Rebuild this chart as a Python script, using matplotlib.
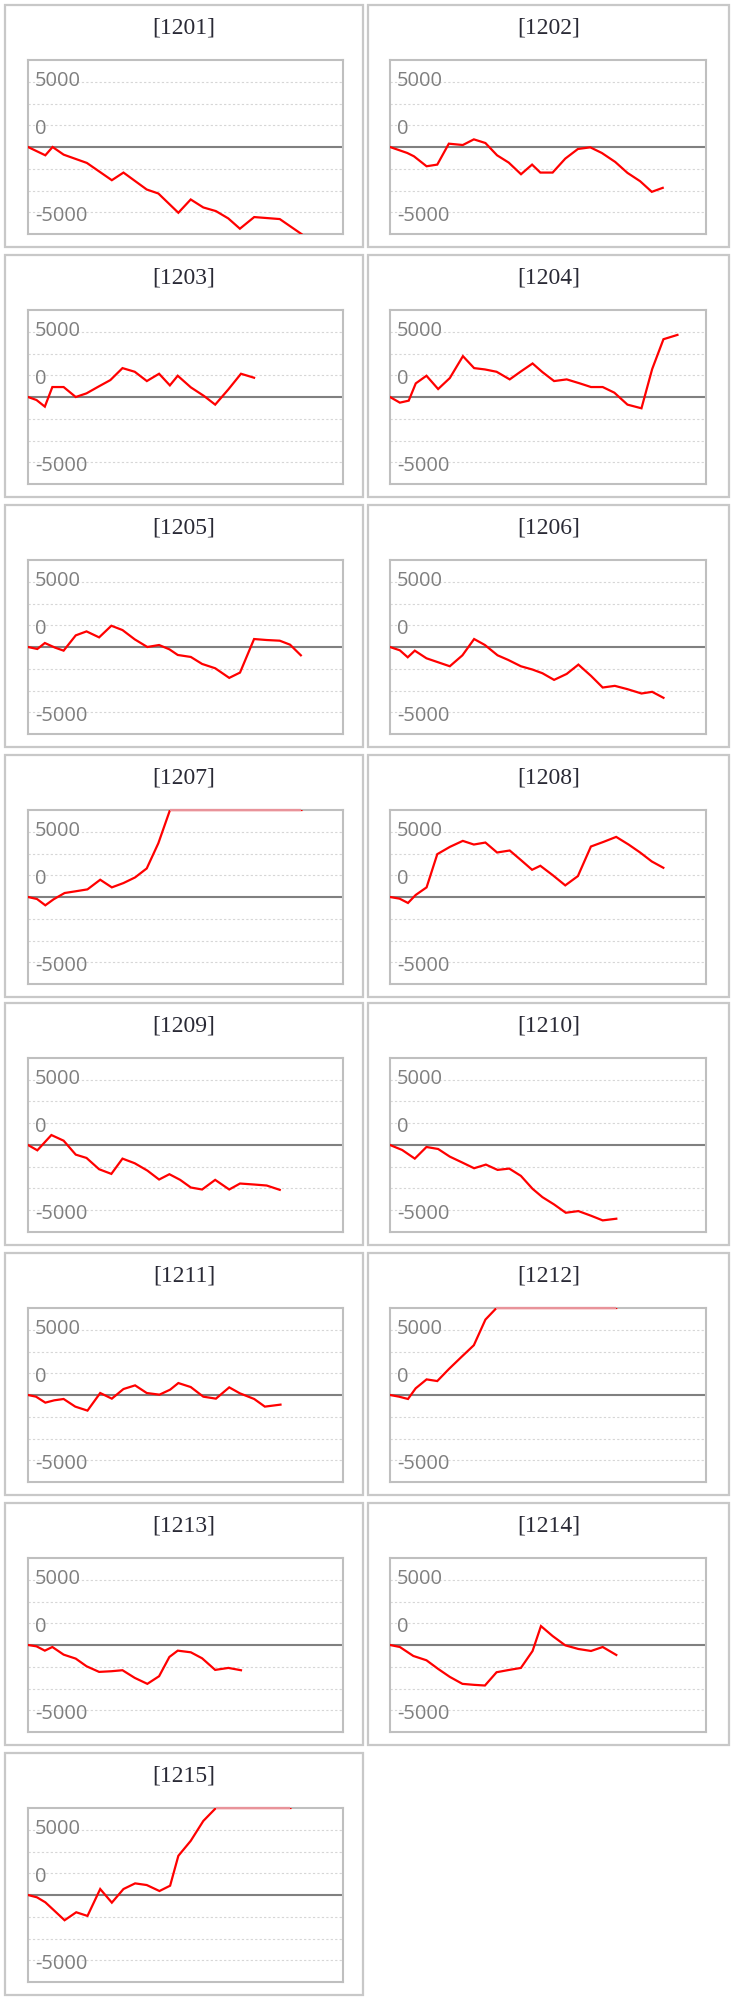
import matplotlib
matplotlib.use("Agg")
import matplotlib.pyplot as plt
import matplotlib.transforms as mtransforms
from matplotlib.patches import Rectangle
import numpy as np

# ---------------- data ----------------
titles = ["[1201]", "[1202]", "[1203]", "[1204]", "[1205]", "[1206]", "[1207]", "[1208]",
          "[1209]", "[1210]", "[1211]", "[1212]", "[1213]", "[1214]", "[1215]"]

x_1201 = [0, 1.43, 2.03, 2.94, 4.86, 6.92, 7.88, 9.80, 10.76, 12.41, 13.43, 14.47, 15.51, 16.53, 17.49, 18.67, 20.78, 22.57]
y_1201 = [0, -954, 0, -878, -1832, -3817, -2939, -4886, -5344, -7558, -6031, -6947, -7367, -8207, -9390, -8054, -8283, -10000]

x_1202 = [0, 1.42, 1.97, 3.01, 3.89, 4.84, 5.99, 6.90, 7.85, 8.81, 9.77, 10.78, 11.69, 12.37, 13.38, 14.42, 15.46, 16.48, 17.43, 18.53, 19.54, 20.58, 21.54, 22.44]
y_1202 = [0, -687, -1069, -2214, -2023, 382, 229, 878, 458, -954, -1794, -3130, -2023, -2939, -2939, -1336, -229, -38, -687, -1718, -2977, -3932, -5153, -4695]

x_1203 = [0, 0.70, 1.39, 2.01, 2.94, 3.94, 4.83, 5.80, 6.80, 7.80, 8.81, 9.81, 10.82, 11.71, 12.36, 13.44, 14.53, 15.45, 16.54, 17.58, 18.66]
y_1203 = [0, -344, -1107, 1145, 1145, 0, 420, 1183, 1947, 3321, 2901, 1832, 2672, 1336, 2443, 1107, 115, -878, 878, 2672, 2214]

x_1204 = [0, 0.81, 1.54, 2.12, 3.00, 3.96, 4.92, 6.00, 6.92, 7.81, 8.77, 9.85, 10.77, 11.73, 12.54, 13.50, 14.54, 15.62, 16.54, 17.50, 18.46, 19.54, 20.69, 21.57, 22.50, 23.65]
y_1204 = [0, -649, -420, 1565, 2443, 916, 2176, 4695, 3321, 3168, 2901, 2023, 2939, 3855, 2863, 1832, 2023, 1565, 1145, 1145, 496, -878, -1298, 3206, 6642, 7138]

x_1205 = [0, 0.77, 1.39, 2.24, 2.94, 3.94, 4.83, 5.87, 6.88, 7.80, 8.81, 9.85, 10.82, 11.67, 12.36, 13.44, 14.37, 15.45, 16.61, 17.50, 18.66, 19.70, 20.78, 21.63, 22.52]
y_1205 = [0, -229, 458, -76, -420, 1336, 1794, 1107, 2443, 1947, 878, 0, 229, -267, -916, -1145, -1947, -2443, -3550, -2939, 916, 802, 725, 267, -954]

x_1206 = [0, 0.81, 1.46, 2.04, 3.00, 3.96, 4.92, 5.96, 6.92, 7.81, 8.85, 9.73, 10.77, 11.73, 12.54, 13.50, 14.54, 15.50, 16.54, 17.50, 18.50, 19.54, 20.69, 21.57, 22.50]
y_1206 = [0, -382, -1183, -420, -1298, -1756, -2214, -954, 916, 229, -954, -1489, -2214, -2596, -3015, -3779, -3092, -2023, -3321, -4657, -4466, -4848, -5344, -5153, -5840]

x_1207 = [0, 0.74, 1.43, 2.11, 3.02, 3.90, 4.91, 5.96, 6.92, 7.88, 8.84, 9.80, 10.76, 11.72, 22.57]
y_1207 = [0, -229, -954, -267, 458, 649, 878, 1985, 1107, 1603, 2252, 3283, 6184, 10000, 10000]

x_1208 = [0, 0.79, 1.48, 2.11, 3.01, 3.89, 4.93, 5.99, 6.90, 7.85, 8.81, 9.85, 10.78, 11.69, 12.37, 13.38, 14.42, 15.46, 16.53, 17.57, 18.61, 19.63, 20.58, 21.54, 22.49]
y_1208 = [0, -191, -687, 229, 1107, 4924, 5764, 6451, 6031, 6260, 5115, 5344, 4237, 3130, 3588, 2519, 1336, 2405, 5802, 6337, 6909, 6031, 5115, 4084, 3359]

x_1209 = [0, 0.77, 1.93, 2.94, 3.94, 4.83, 5.87, 6.88, 7.80, 8.81, 9.85, 10.82, 11.67, 12.56, 13.44, 14.37, 15.45, 16.61, 17.50, 18.66, 19.70, 20.78]
y_1209 = [0, -611, 1145, 496, -1107, -1489, -2786, -3321, -1565, -2099, -2939, -3970, -3359, -4008, -4886, -5115, -4008, -5115, -4428, -4542, -4657, -5153]

x_1210 = [0, 1.00, 2.04, 3.00, 3.96, 4.92, 5.96, 6.92, 7.89, 8.85, 9.81, 10.77, 11.73, 12.54, 13.50, 14.46, 15.50, 16.54, 17.50, 18.62]
y_1210 = [0, -573, -1565, -229, -458, -1336, -2023, -2672, -2252, -2863, -2710, -3550, -5038, -5993, -6832, -7787, -7596, -8130, -8665, -8474]

x_1211 = [0, 0.66, 1.43, 2.17, 2.94, 3.90, 4.91, 5.96, 6.92, 7.88, 8.84, 9.80, 10.85, 11.73, 12.41, 13.43, 14.47, 15.51, 16.61, 17.49, 18.67, 19.55, 20.84]
y_1211 = [0, -191, -878, -611, -458, -1336, -1794, 229, -420, 687, 1107, 229, 38, 611, 1374, 916, -191, -420, 878, 191, -458, -1336, -1107]

x_1212 = [0, 0.74, 1.48, 2.11, 3.01, 3.89, 4.84, 5.89, 6.90, 7.85, 8.76, 18.61]
y_1212 = [0, -191, -458, 763, 1794, 1603, 2977, 4389, 5725, 8665, 10000, 10000]

x_1213 = [0, 0.70, 1.39, 2.01, 2.94, 3.94, 4.83, 5.87, 6.88, 7.80, 8.81, 9.85, 10.82, 11.67, 12.36, 13.44, 14.37, 15.45, 16.54, 17.58]
y_1213 = [0, -153, -649, -229, -1107, -1565, -2443, -3092, -3015, -2901, -3779, -4466, -3588, -1374, -649, -840, -1527, -2863, -2634, -2901]

x_1214 = [0, 0.81, 1.92, 3.00, 3.96, 4.92, 5.96, 6.92, 7.81, 8.77, 9.81, 10.77, 11.73, 12.42, 13.38, 14.42, 15.50, 16.54, 17.50, 18.62]
y_1214 = [0, -229, -1260, -1756, -2748, -3664, -4466, -4580, -4657, -3130, -2863, -2634, -687, 2176, 1031, -38, -458, -687, -229, -1145]

x_1215 = [0, 0.74, 1.43, 2.11, 3.02, 3.98, 4.91, 5.96, 6.92, 7.88, 8.84, 9.80, 10.85, 11.73, 12.41, 13.43, 14.47, 15.51, 21.66]
y_1215 = [0, -267, -840, -1718, -2901, -1985, -2405, 687, -878, 687, 1336, 1145, 458, 1069, 4504, 6222, 8512, 10000, 10000]

series_x = [x_1201, x_1202, x_1203, x_1204, x_1205, x_1206, x_1207, x_1208,
            x_1209, x_1210, x_1211, x_1212, x_1213, x_1214, x_1215]
series_y = [y_1201, y_1202, y_1203, y_1204, y_1205, y_1206, y_1207, y_1208,
            y_1209, y_1210, y_1211, y_1212, y_1213, y_1214, y_1215]

tick_labels = ["5000", "0", "-5000"]
tick_label_pos = [7600, 2100, -7950]
grid_values = [-7500, -5000, -2500, 2500, 5000, 7500]

# ---------------- layout ----------------
W, H = 734, 2001
fig = plt.figure(figsize=(W / 100, H / 100), dpi=100)

row_tops = [0, 250, 500, 750, 998, 1248, 1498, 1748]
col_outer = [(5, 363), (368, 729)]
col_axes = [(28, 343), (390, 706)]
YLIM = (-10000, 10000)
XLIM = (0, 26)


def fx(px):
    return px / W


def fy(py):
    return 1 - py / H


for i, title in enumerate(titles):
    r, c = divmod(i, 2)
    top = row_tops[r]
    ox0, ox1 = col_outer[c]
    fig.patches.append(Rectangle((fx(ox0), fy(top + 247)), fx(ox1 - ox0), (242) / H,
                                 transform=fig.transFigure, fill=False,
                                 edgecolor="#c8c8c8", linewidth=1.6))
    fig.text(fx((ox0 + ox1) / 2), fy(top + 28), title, ha="center", va="center",
             fontsize=17, family="Liberation Serif", color="#2a2a36")

    ax0, ax1 = col_axes[c]
    ax = fig.add_axes([fx(ax0), fy(top + 234), fx(ax1 - ax0), 174 / H])
    ax.set_xlim(*XLIM)
    ax.set_ylim(*YLIM)
    ax.set_xticks([])
    ax.set_yticks([])
    for s in ax.spines.values():
        s.set_color("#bfbfbf")
        s.set_linewidth(1.5)
    for g in grid_values:
        ax.axhline(g, color="#d6d6d6", linewidth=0.8, linestyle=(0, (2, 2)), zorder=1)
    ax.axhline(0, color="#808080", linewidth=1.5, zorder=2)

    trans = mtransforms.blended_transform_factory(ax.transAxes, ax.transData)
    for lab, pos in zip(tick_labels, tick_label_pos):
        ax.text(7 / (ax1 - ax0), pos, lab, transform=trans, ha="left", va="center",
                fontsize=14.5, family="Open Sans", color="#7f7f7f", zorder=3)

    xs = np.array(series_x[i], dtype=float)
    ys = np.array(series_y[i], dtype=float)
    yc = np.clip(ys, *YLIM)
    ax.plot(xs, yc, color="#ff0000", linewidth=1.6, zorder=4, solid_joinstyle="miter")
    # saturated part drawn along the frame
    sat = ys >= YLIM[1]
    for k in range(len(xs) - 1):
        if sat[k] and sat[k + 1]:
            ax.plot(xs[k:k + 2], [YLIM[1], YLIM[1]], color="#e8939a", linewidth=1.6,
                    zorder=6, clip_on=False, solid_capstyle="butt")

fig.savefig("out.png", dpi=100)
